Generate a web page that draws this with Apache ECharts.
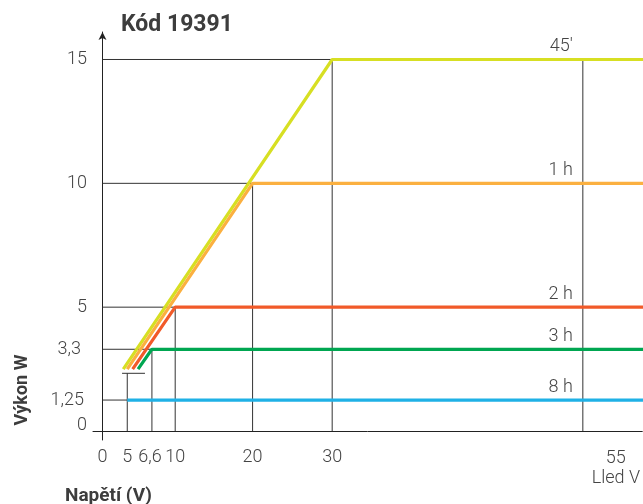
<!DOCTYPE html>
<html><head><meta charset="utf-8">
<script src="https://cdn.jsdelivr.net/npm/echarts@6/dist/echarts.min.js"></script>
<style>html,body{margin:0;padding:0;background:#fff}#c{width:643px;height:504px}</style>
</head><body><div id="c"></div>
<script>
// ---- data ----
const xTickValues = [0, 5, 6.6, 10, 20, 30, 55];
const yTickValues = [0, 1.25, 3.3, 5, 10, 15];
const seriesNames = ['45′', '1 h', '2 h', '3 h', '8 h'];
const startVoltage = [4.2, 5.0, 5.35, 5.7, 5];
const startPower = [2.5, 2.5, 2.5, 2.5, 1.25];
const kneeVoltage = [30, 20, 10, 6.6, 5];
const kneePower = [15, 10, 5, 3.3, 1.25];
const endVoltage = 61;
const ledVoltage = 55;
const markerPower = 2.33;
const markerVoltage = [3.95, 6.15];

// ---- styling / schematic (non-linear) voltage scale ----
const colors = ['#d7df23', '#fbb040', '#f15a29', '#00a651', '#1fb1e6'];
const xScaleBreaks = [[0, 0], [5, 24.8], [6.6, 49.5], [10, 72.8], [20, 150.3], [30, 230], [55, 481]];
function xw(v) {
  const b = xScaleBreaks;
  if (v <= b[0][0]) return b[0][1] + (v - b[0][0]) * (b[1][1] - b[0][1]) / (b[1][0] - b[0][0]);
  for (let i = 1; i < b.length; i++) {
    if (v <= b[i][0]) return b[i - 1][1] + (v - b[i - 1][0]) * (b[i][1] - b[i - 1][1]) / (b[i][0] - b[i - 1][0]);
  }
  const n = b.length - 1;
  return b[n][1] + (v - b[n][0]) * (b[n][1] - b[n - 1][1]) / (b[n][0] - b[n - 1][0]);
}
const labelFont = { fontFamily: 'Roboto', fontWeight: 300, fontSize: 18, color: '#444' };
const fmt = v => String(v).replace('.', ',');

const series = [];
const refLine = (pts) => series.push({
  type: 'line', silent: true, symbol: 'none', z: 1,
  lineStyle: { color: '#333', width: 1 },
  data: pts
});
for (let i = 0; i < 4; i++) {
  refLine([[0, kneePower[i]], [xw(kneeVoltage[i]), kneePower[i]]]);
  refLine([[xw(kneeVoltage[i]), 0], [xw(kneeVoltage[i]), kneePower[i]]]);
}
refLine([[0, kneePower[4]], [xw(kneeVoltage[4]), kneePower[4]]]);
refLine([[xw(kneeVoltage[4]), 0], [xw(kneeVoltage[4]), markerPower]]);
refLine([[xw(markerVoltage[0]), markerPower], [xw(markerVoltage[1]), markerPower]]);
refLine([[xw(ledVoltage), 0], [xw(ledVoltage), Math.max(...kneePower)]]);

for (let i = 0; i < seriesNames.length; i++) {
  series.push({
    type: 'line', name: seriesNames[i], symbol: 'none', z: 3, silent: true,
    lineStyle: { color: colors[i], width: 3.2, cap: 'butt' },
    data: [
      [xw(startVoltage[i]), startPower[i]],
      [xw(kneeVoltage[i]), kneePower[i]],
      [xw(endVoltage), kneePower[i]]
    ],
    markPoint: {
      silent: true, animation: false,
      data: [{
        coord: [xw(ledVoltage), kneePower[i]], symbol: 'circle', symbolSize: 0,
        label: {
          show: true, position: 'top', distance: 4, align: 'right', offset: [-10, 0],
          formatter: seriesNames[i], ...labelFont
        }
      }]
    }
  });
}

const chart = echarts.init(document.getElementById('c'), null, { renderer: 'canvas' });
chart.setOption({
  animation: false,
  backgroundColor: '#fff',
  title: [
    { text: 'Kód 19391', left: 121, top: 14, padding: 0,
      textStyle: { fontFamily: 'Roboto', fontWeight: 'bold', fontSize: 23, color: '#3d3d3d' } },
    { text: 'Napětí (V)', left: 65, top: 487, padding: 0,
      textStyle: { fontFamily: 'Roboto', fontWeight: 'bold', fontSize: 19, color: '#3d3d3d' } }
  ],
  graphic: [{
    type: 'text', x: 22, y: 390, rotation: Math.PI / 2, silent: true,
    style: { text: 'Výkon W', fontFamily: 'Roboto', fontWeight: 'bold', fontSize: 18,
      fill: '#3d3d3d', align: 'center', verticalAlign: 'middle' }
  }],
  grid: { left: 93, right: 0, top: 32, bottom: 64, containLabel: false },
  xAxis: {
    type: 'value', min: -9.5, max: 540.5,
    splitLine: { show: false }, axisTick: { show: false },
    axisLine: { show: true, onZero: true, lineStyle: { color: '#222', width: 1 } },
    axisLabel: {
      show: true, margin: 8, ...labelFont,
      customValues: xTickValues.map(xw),
      formatter: (u) => {
        let best = xTickValues[0];
        for (const t of xTickValues) if (Math.abs(xw(t) - u) < Math.abs(xw(best) - u)) best = t;
        if (best === 55) return '{r|55}\n{r|Lled V}';
        if (best === 6.6) return '{l|6,6}';
        return fmt(best);
      },
      rich: {
        r: { ...labelFont, padding: [0, 0, 0, 66], lineHeight: 20 },
        l: { ...labelFont, padding: [0, 4, 0, 0] }
      }
    }
  },
  yAxis: {
    type: 'value', min: -0.363, max: 16.11,
    splitLine: { show: false }, axisTick: { show: false },
    axisLine: { show: true, onZero: true, symbol: ['none', 'arrow'], symbolSize: [6, 8],
      lineStyle: { color: '#222', width: 1 } },
    axisLabel: {
      show: true, margin: 6, ...labelFont,
      customValues: yTickValues,
      formatter: (v) => {
        if (v === 0) return '{z|0}';
        if (v === 3.3) return '{a|3,3}';
        if (v === 1.25) return '{b|1,25}';
        return fmt(v);
      },
      rich: {
        z: { ...labelFont, padding: [0, 0, 12, 0] },
        a: { ...labelFont, padding: [0, 6, 0, 0] },
        b: { ...labelFont, padding: [0, 3, 0, 0] }
      }
    }
  },
  series
});
</script>
</body></html>
